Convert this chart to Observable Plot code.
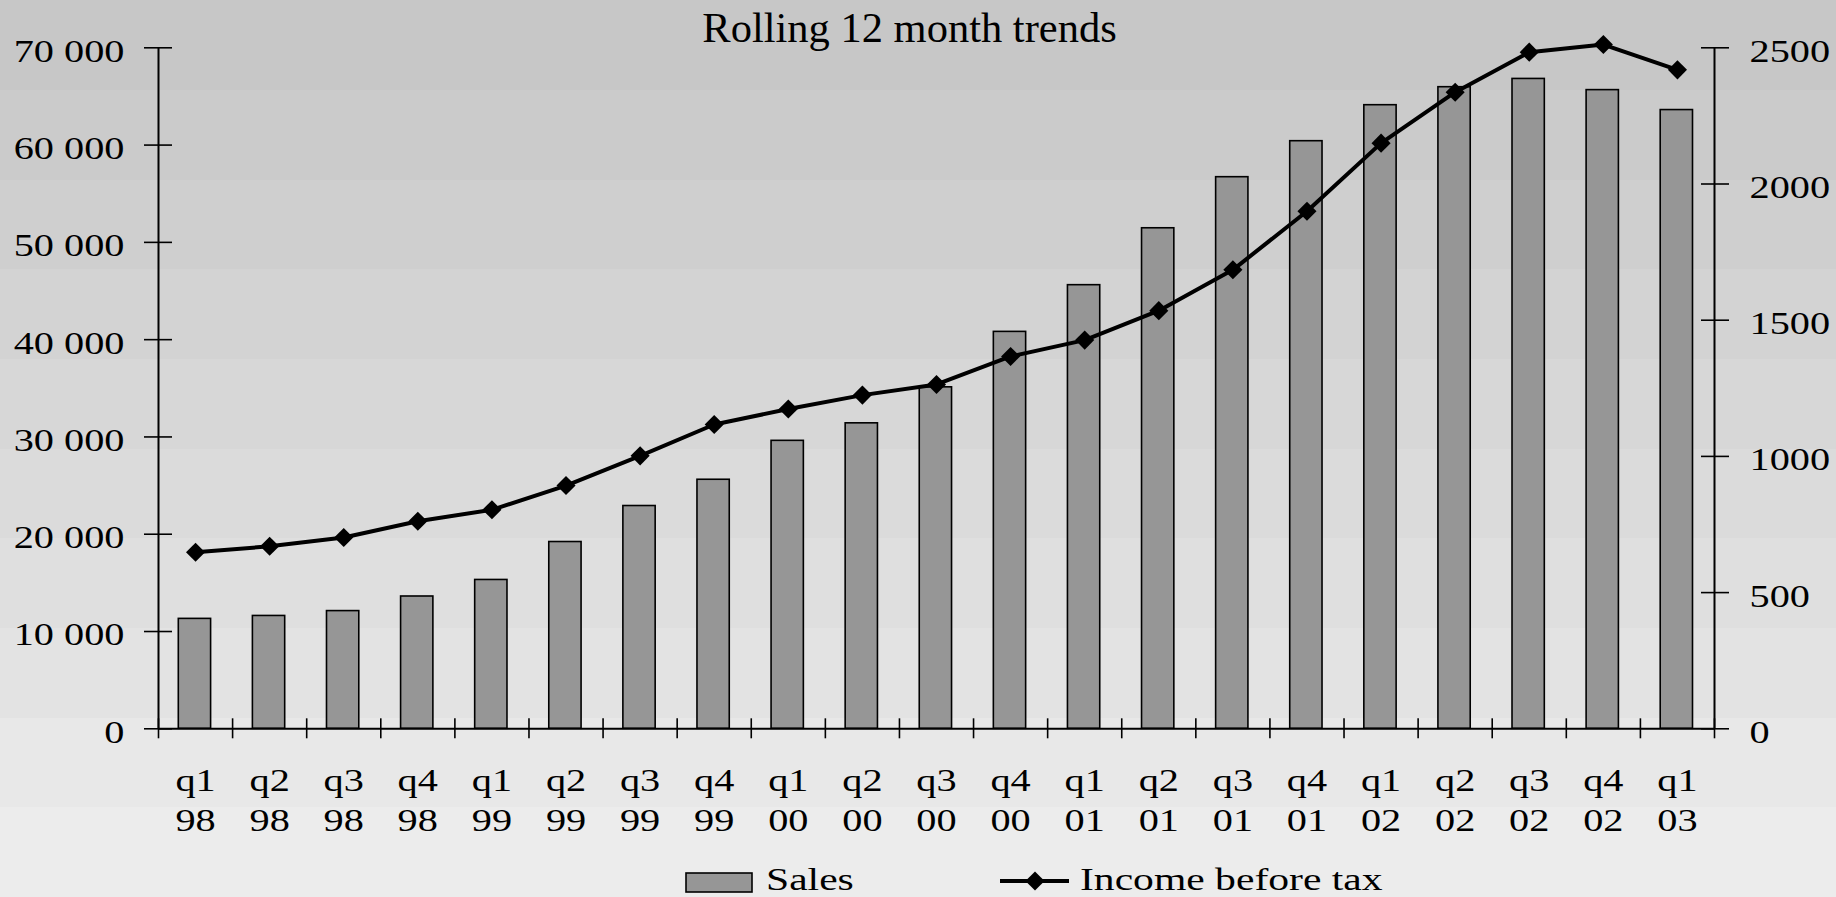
<!DOCTYPE html>
<html>
<head>
<meta charset="utf-8">
<script src="https://cdn.jsdelivr.net/npm/d3@7"></script>
<script src="https://cdn.jsdelivr.net/npm/@observablehq/plot@0.6"></script>
<style>
  html, body { margin: 0; padding: 0; }
  body {
    width: 1836px; height: 897px; overflow: hidden;
    font-family: "Liberation Serif", "Times New Roman", serif;
    background: linear-gradient(to bottom,
      #c7c7c7 0px, #c7c7c7 90px, #cbcbcb 90px, #cbcbcb 180px,
      #cfcfcf 180px, #cfcfcf 269px, #d3d3d3 269px, #d3d3d3 359px,
      #d7d7d7 359px, #d7d7d7 449px, #dbdbdb 449px, #dbdbdb 538px,
      #dfdfdf 538px, #dfdfdf 628px, #e3e3e3 628px, #e3e3e3 718px,
      #e8e8e8 718px, #e8e8e8 807px, #ececec 807px, #ececec 897px);
  }
  #chart svg, #legend svg { display: block; }
</style>
</head>
<body>
<div id="chart"></div>
<div id="legend"></div>
<script>
// Rolling 12-month figures per quarter
const quarters = ["q1","q2","q3","q4","q1","q2","q3","q4","q1","q2","q3","q4","q1","q2","q3","q4","q1","q2","q3","q4","q1"];
const years    = ["98","98","98","98","99","99","99","99","00","00","00","00","01","01","01","01","02","02","02","02","03"];
const sales    = [11300, 11600, 12100, 13600, 15300, 19200, 22900, 25600, 29600, 31400, 35100,
                  40800, 45600, 51450, 56700, 60400, 64100, 65950, 66800, 65650, 63600];
const income   = [648, 670, 702, 762, 804, 893, 1002, 1117, 1174, 1225, 1264,
                  1367, 1427, 1535, 1685, 1900, 2150, 2337, 2484, 2512, 2419];

const salesTicks  = [0, 10000, 20000, 30000, 40000, 50000, 60000, 70000];
const incomeTicks = [0, 500, 1000, 1500, 2000, 2500];
const title = "Rolling 12 month trends";
const seriesNames = ["Sales", "Income before tax"];

// The income series shares the plot's y scale, rescaled so 2500 lines up with 70 000
const salesMax = 70000, incomeMax = 2500;
const ratio = salesMax / incomeMax;

const rows = quarters.map((q, i) => ({
  i, label: `${q}\n${years[i]}`, sales: sales[i], income: income[i]
}));

const fmtSales = d3.formatLocale({decimal: ",", thousands: " ", grouping: [3], currency: ["", ""]}).format(",");

const plot = Plot.plot({
  width: 1836,
  height: 855,
  marginLeft: 158,
  marginRight: 122,
  marginTop: 47.3,
  marginBottom: 126.7,
  x: {type: "linear", domain: [0, rows.length]},
  y: {domain: [0, salesMax]},
  style: {background: "transparent", fontFamily: "'Liberation Serif', 'Times New Roman', serif", color: "#000", overflow: "visible"},
  marks: [
    // sales bars
    Plot.rectY(rows, {x1: "i", x2: d => d.i + 1, y: "sales", insetLeft: 20.3, insetRight: 21.5,
      fill: "#969696", stroke: "#000", strokeWidth: 1.6}),
    // axis lines
    Plot.ruleX([0, rows.length], {stroke: "#000", strokeWidth: 2}),
    Plot.ruleY([0], {stroke: "#000", strokeWidth: 2}),
    // cross ticks on the category axis, at the boundaries between quarters
    Plot.axisX({ticks: d3.range(rows.length + 1), tickSize: 20, dy: -10, tickFormat: () => "",
      stroke: "#000", strokeWidth: 1.6, label: null}),
    // category labels
    Plot.axisX({ticks: rows.map(d => d.i + 0.5), tickFormat: v => rows[Math.round(v - 0.5)].label,
      tickSize: 0, tickPadding: 34, lineHeight: 1.29, fontSize: 31, fill: "#000", label: null}),
    // left axis: sales
    Plot.axisY({anchor: "left", ticks: salesTicks, tickSize: 28, dx: 14, tickFormat: () => "",
      stroke: "#000", strokeWidth: 1.6, label: null}),
    Plot.axisY({anchor: "left", ticks: salesTicks, tickSize: 0, tickPadding: 34, dy: 4,
      tickFormat: fmtSales, fontSize: 31, fill: "#000", label: null}),
    // right axis: income before tax
    Plot.axisY({anchor: "right", ticks: incomeTicks.map(v => v * ratio), tickSize: 28, dx: -14,
      tickFormat: () => "", stroke: "#000", strokeWidth: 1.6, label: null}),
    Plot.axisY({anchor: "right", ticks: incomeTicks.map(v => v * ratio), tickSize: 0, tickPadding: 35, dy: 4,
      tickFormat: v => String(Math.round(v / ratio)), fontSize: 31, fill: "#000", label: null}),
    // income line with diamond markers
    Plot.line(rows, {x: d => d.i + 0.5, y: d => d.income * ratio, stroke: "#000", strokeWidth: 4}),
    Plot.dot(rows, {x: d => d.i + 0.5, y: d => d.income * ratio, symbol: "diamond2", r: 8.6, fill: "#000", stroke: "none"}),
    // title, baseline just above the top of the axes
    Plot.text([title], {text: d => d, frameAnchor: "top", lineAnchor: "bottom", dx: -27, dy: -5.6,
      fontSize: 42.5, fill: "#000"})
  ]
});
document.getElementById("chart").appendChild(plot);

// The tick labels use a horizontally widened serif face
function widen(nodes, k) {
  nodes.forEach(t => {
    const b = t.getBBox();
    const anchor = getComputedStyle(t).textAnchor;
    const a = anchor === "end" ? b.x + b.width : anchor === "middle" ? b.x + b.width / 2 : b.x;
    const tr = t.getAttribute("transform") || "";
    t.setAttribute("transform", `${tr} translate(${a},0) scale(${k},1) translate(${-a},0)`);
  });
}
widen(plot.querySelectorAll('g[aria-label*="tick label"] text'), 1.3);

// Legend below the chart
const leg = d3.select("#legend").append("svg")
  .attr("width", 1836).attr("height", 42)
  .style("font-family", "'Liberation Serif', 'Times New Roman', serif")
  .style("font-size", "32px");
leg.append("rect").attr("x", 686).attr("y", 18).attr("width", 66).attr("height", 19)
  .attr("fill", "#969696").attr("stroke", "#000").attr("stroke-width", 1.6);
leg.append("text").attr("x", 766).attr("y", 35).attr("fill", "#000").text(seriesNames[0]);
leg.append("line").attr("x1", 1000).attr("x2", 1069).attr("y1", 26).attr("y2", 26)
  .attr("stroke", "#000").attr("stroke-width", 4);
leg.append("path").attr("transform", "translate(1035,26)")
  .attr("d", d3.symbol(d3.symbolDiamond2, 74 * Math.PI)()).attr("fill", "#000");
leg.append("text").attr("x", 1080).attr("y", 35).attr("fill", "#000").text(seriesNames[1]);
widen(leg.node().querySelectorAll("text"), 1.3);
</script>
</body>
</html>
